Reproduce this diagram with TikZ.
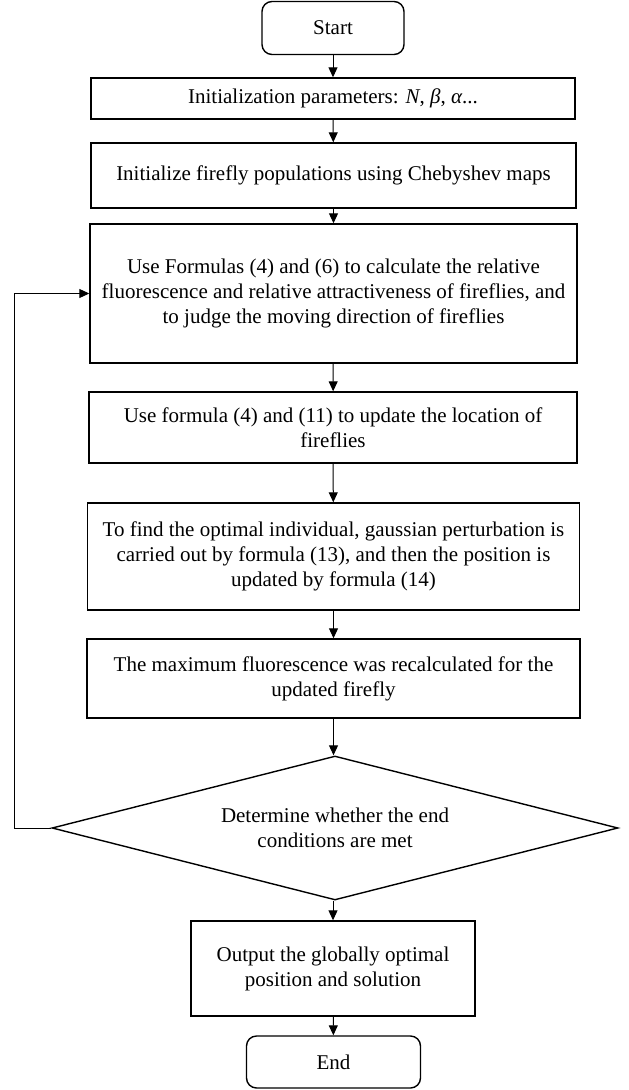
\documentclass[tikz,border=0pt]{standalone}
\usepackage{fontspec}
\setmainfont{Liberation Serif}
\usetikzlibrary{shapes.geometric,arrows.meta}

\tikzset{
  terminal/.style = {draw, line width=.7pt, rounded corners=5pt, align=center},
  process/.style = {draw, line width=.7pt, align=center, inner sep=0pt},
  decision/.style = {draw, line width=.7pt, diamond, align=center, inner sep=0pt},
  flow/.style = {line width=.5pt, -{Triangle[length=5pt,width=4.5pt]}}
}

\begin{document}
\begin{tikzpicture}[x=.5pt,y=-.5pt,font=\fontsize{10.5}{12.5}\selectfont]
  \useasboundingbox (0,0) rectangle (628,1090);

  \node [terminal, minimum width=71pt, minimum height=26.5pt] (start) at (333,28) {Start};
  \node [process, minimum width=242pt, minimum height=20.5pt] (init) at (333,98.5) {Initialization parameters: \textit{N}, \textit{β}, \textit{α}...};
  \node [process, minimum width=242.5pt, minimum height=32.5pt] (cheb) at (333.5,175.5) {Initialize firefly populations using Chebyshev maps};
  \node [process, minimum width=243.5pt, minimum height=69.5pt] (formulas) at (333.5,293.5) {Use Formulas (4) and (6) to calculate the relative\\ fluorescence and relative attractiveness of fireflies, and\\ to judge the moving direction of fireflies};
  \node [process, minimum width=244pt, minimum height=35.5pt] (update) at (333,427.5) {Use formula (4) and (11) to update the location of\\ fireflies};
  \node [process, minimum width=246pt, minimum height=53.5pt] (gauss) at (333.5,556.5) {To find the optimal individual, gaussian perturbation is\\ carried out by formula (13), and then the position is\\ updated by formula (14)};
  \node [process, minimum width=246.5pt, minimum height=39.5pt] (recalc) at (333.5,678.5) {The maximum fluorescence was recalculated for the\\ updated firefly};
  \node [decision, aspect=3.9, minimum width=283pt, minimum height=72pt] (check) at (335,828) {Determine whether the end\\ conditions are met};
  \node [process, minimum width=142pt, minimum height=47.5pt] (output) at (333,968.5) {Output the globally optimal\\ position and solution};
  \node [terminal, minimum width=87pt, minimum height=26pt] (end) at (333.5,1062) {End};

  \draw [flow] (start) -- (init);
  \draw [flow] (init) -- (cheb);
  \draw [flow] (cheb) -- (formulas);
  \draw [flow] (formulas) -- (update);
  \draw [flow] (update) -- (gauss);
  \draw [flow] (gauss) -- (recalc);
  \draw [flow] (recalc.south) -- (recalc.south |- check.north);
  \draw [flow] (check.south -| output.north) -- (output);
  \draw [flow] (output) -- (end);
  \draw [flow] (check.west) -- ++(-37,0) |- (formulas.west);

\end{tikzpicture}
\end{document}
